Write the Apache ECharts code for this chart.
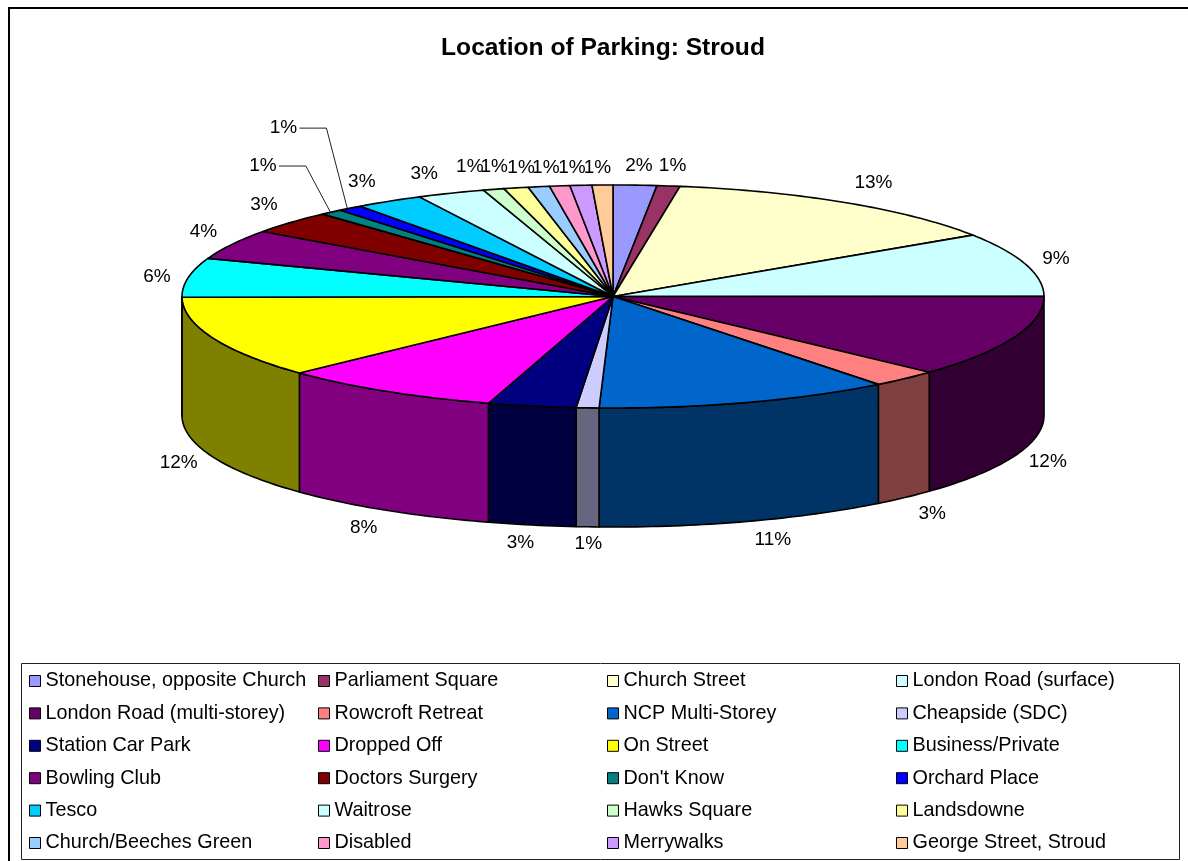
<!DOCTYPE html>
<html>
<head>
<meta charset="utf-8">
<style>html,body{margin:0;padding:0;background:#fff;overflow:hidden}#c{width:1188px;height:861px}</style>
<script src="https://cdn.jsdelivr.net/npm/echarts@6/dist/echarts.min.js"></script>
</head>
<body>
<div id="c"></div>
<script>
const chartTitle = "Location of Parking: Stroud";
const categories = ["Stonehouse, opposite Church","Parliament Square","Church Street","London Road (surface)",
  "London Road (multi-storey)","Rowcroft Retreat","NCP Multi-Storey","Cheapside (SDC)",
  "Station Car Park","Dropped Off","On Street","Business/Private",
  "Bowling Club","Doctors Surgery","Don't Know","Orchard Place",
  "Tesco","Waitrose","Hawks Square","Landsdowne",
  "Church/Beeches Green","Disabled","Merrywalks","George Street, Stroud"];
const shares = [1.63,0.86,13.26,9.26,11.95,2.56,11.09,0.85,3.31,8.32,11.95,5.67,4.37,3.32,0.87,0.93,2.56,2.56,0.79,0.92,0.80,0.76,0.82,0.78];
const colors = ["#9999FF","#993366","#FFFFCC","#CCFFFF","#660066","#FF8080","#0066CC","#CCCCFF",
  "#000080","#FF00FF","#FFFF00","#00FFFF","#800080","#800000","#008080","#0000FF",
  "#00CCFF","#CCFFFF","#CCFFCC","#FFFF99","#99CCFF","#FF99CC","#CC99FF","#FFCC99"];

// geometry and label placement (styling, not data)
const CX = 613, CY = 296.5, RX = 431, RY = 111.5, DEPTH = 119;
const LABEL_RX = 470, LABEL_RY = 138, LABEL_DEPTH = 113;
const labelNudge = [[2,7],[-1,6],[6,2],[-7,2],[-3,2],[1,3],[14,-1],[3,-3],[-4,-2],[-2,1],[2,2],[7,4],
  [6,0],[2,0],[-43,-26],[-43,-59],[-7,3],[-12,5],[-13,3],[-13,5],[-11,7],[-9,8],[-6,9],[-4,9]];
const leaderSlices = {14:-1, 15:-3};
const FONT = '"Liberation Sans", Arial, sans-serif';

const total = shares.reduce((a, b) => a + b, 0);
const rad = d => d * Math.PI / 180;
const pt = (t, dy) => [CX + RX * Math.sin(rad(t)), CY - RY * Math.cos(rad(t)) + (dy || 0)];
function arc(a, b, dy) {
  const n = Math.max(2, Math.ceil(Math.abs(b - a) / 1.0));
  const out = [];
  for (let i = 0; i <= n; i++) out.push(pt(a + (b - a) * i / n, dy));
  return out;
}
function shade(c) {
  const p = echarts.color.parse(c);
  return 'rgb(' + Math.round(p[0] / 2) + ',' + Math.round(p[1] / 2) + ',' + Math.round(p[2] / 2) + ')';
}
const startAngles = [];
shares.reduce((acc, v, i) => { startAngles[i] = acc; return acc + v / total * 360; }, 0);

function renderSlice(idx) {
  return function (params, api) {
    const a = startAngles[idx];
    const b = a + api.value(0) / total * 360;
    const color = colors[idx];
    const children = [];
    const edge = { stroke: '#000', lineWidth: 1.6, lineJoin: 'round' };
    const wa = Math.max(a, 90), wb = Math.min(b, 270);
    if (wb > wa) {
      const top = arc(wa, wb, 0);
      const bottom = arc(wb, wa, DEPTH);
      children.push({ type: 'polygon', shape: { points: top.concat(bottom) },
        style: Object.assign({ fill: shade(color) }, edge) });
    }
    children.push({ type: 'polygon', shape: { points: [[CX, CY]].concat(arc(a, b, 0)) },
      style: Object.assign({ fill: color }, edge) });
    const m = (a + b) / 2, s = Math.sin(rad(m)), c = Math.cos(rad(m));
    const lx = CX + LABEL_RX * s + labelNudge[idx][0];
    const ly = CY - LABEL_RY * c + (m > 90 && m < 270 ? LABEL_DEPTH : 0) + labelNudge[idx][1];
    if (idx in leaderSlices) {
      const p = pt(m);
      children.push({ type: 'polyline',
        shape: { points: [[lx + 16, ly], [lx + 43, ly], [p[0] + leaderSlices[idx], p[1]]] },
        style: { stroke: '#222', lineWidth: 1, fill: null } });
    }
    children.push({ type: 'text', style: {
      text: Math.round(api.value(0) / total * 100) + '%', x: lx, y: ly,
      align: 'center', verticalAlign: 'middle', fill: '#000', font: '19px ' + FONT } });
    return { type: 'group', children };
  };
}

const legendLeft = [29, 318, 607, 896];
const legends = legendLeft.map((left, col) => ({
  left, top: 668.5, height: 190, orient: 'vertical', padding: 0, itemGap: 7.4,
  itemWidth: 11, itemHeight: 11, selectedMode: false, icon: 'rect',
  itemStyle: { borderColor: '#000', borderWidth: 1 },
  textStyle: { fontFamily: FONT, fontSize: 19.8, color: '#000', lineHeight: 20, padding: [0, 0, 5, 0] },
  data: categories.filter((_, i) => i % 4 === col)
}));

const chart = echarts.init(document.getElementById('c'), null, { renderer: 'canvas' });
chart.setOption({
  animation: false,
  backgroundColor: '#fff',
  title: { text: chartTitle, left: 598, top: 31, textAlign: 'center',
    textStyle: { fontFamily: FONT, fontSize: 24.6, fontWeight: 'bold', color: '#000' } },
  legend: legends,
  graphic: [
    { type: 'rect', z: -1, shape: { x: 9, y: 8, width: 1400, height: 1000 }, style: { fill: '#fff', stroke: '#000', lineWidth: 2 }, silent: true },
    { type: 'rect', z: -1, shape: { x: 21.5, y: 663.5, width: 1158, height: 196 }, style: { fill: '#fff', stroke: '#222', lineWidth: 1 }, silent: true }
  ],
  series: categories.map((name, i) => ({
    type: 'custom', name, coordinateSystem: 'none',
    itemStyle: { color: colors[i] },
    renderItem: renderSlice(i),
    data: [[shares[i]]],
    silent: true
  }))
});
</script>
</body>
</html>
